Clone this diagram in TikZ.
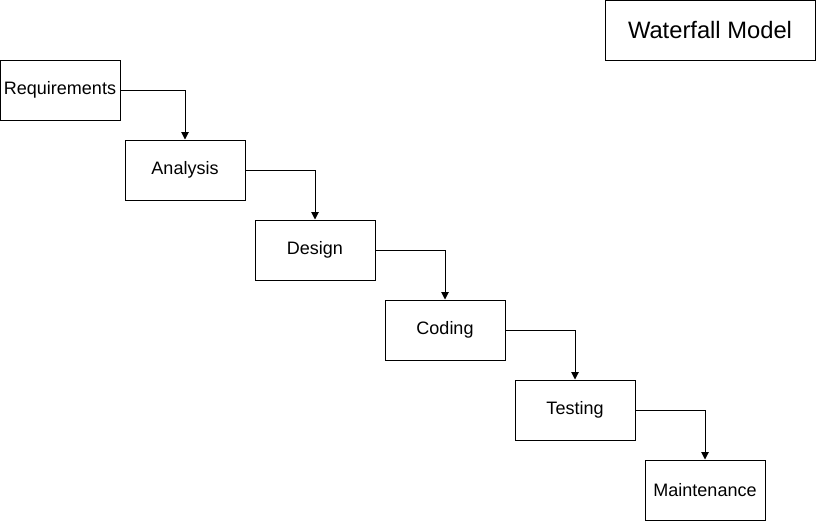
\documentclass[tikz,border=0pt]{standalone}
\usepackage{fontspec}
\setmainfont{Liberation Sans}
\usetikzlibrary{arrows.meta}

\tikzset{
	stage/.style={draw, line width=0.75pt, minimum width=90pt, minimum height=45pt, inner sep=0pt, font=\fontsize{13.5}{16}\selectfont},
	flow/.style={draw, line width=0.75pt, -{Triangle[length=5.5pt,width=5.5pt]}}
}

\begin{document}
\begin{tikzpicture}[x=0.75pt, y=-0.75pt]
				%%%%% START %%%%%
				\useasboundingbox (0, 0) rectangle (816, 521);
				
				\node[stage, minimum width=157.5pt, font=\fontsize{17.8}{21}\selectfont] (title) at (710, 30) {Waterfall Model};
				
				\node[stage] (req) at (60, 90) {Requirements};
				\node[stage] (ana) at (185, 170) {Analysis};
				\node[stage] (des) at (315, 250) {Design};
				\node[stage] (cod) at (445, 330) {Coding};
				\node[stage] (tes) at (575, 410) {Testing};
				\node[stage] (mai) at (705, 490) {Maintenance};
				
				\draw[flow] (req.east) -| (ana.north);
				\draw[flow] (ana.east) -| (des.north);
				\draw[flow] (des.east) -| (cod.north);
				\draw[flow] (cod.east) -| (tes.north);
				\draw[flow] (tes.east) -| (mai.north);
				%%%%% END %%%%%
\end{tikzpicture}
\end{document}
